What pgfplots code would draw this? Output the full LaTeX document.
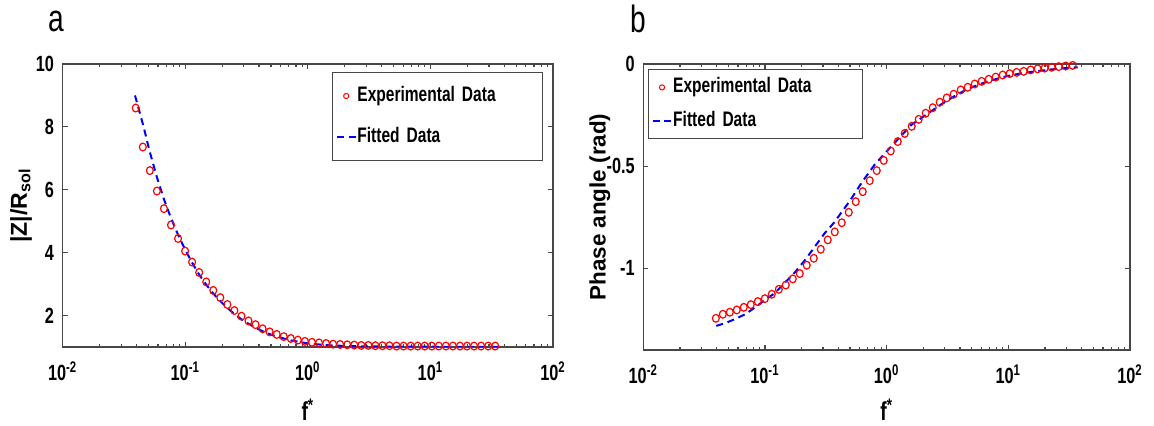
\documentclass[border=0pt]{standalone}
\usepackage{pgfplots}
\pgfplotsset{compat=1.18}
\usepackage{fontspec}
\setmainfont{Liberation Sans}[FakeStretch=0.74, WordSpace=0.8]
\newfontfamily\ylabfont{Liberation Sans}

\pgfplotstableread{
x y
0.03945 8.60
0.04503 7.36
0.05140 6.61
0.05868 5.96
0.06699 5.40
0.07646 4.88
0.08730 4.45
0.09966 4.05
0.11376 3.70
0.12987 3.37
0.14825 3.07
0.16923 2.80
0.19320 2.57
0.22053 2.35
0.25177 2.16
0.28737 1.98
0.32810 1.83
0.37454 1.71
0.42756 1.58
0.48809 1.48
0.55719 1.40
0.63605 1.33
0.72611 1.27
0.82889 1.22
0.94624 1.18
1.0802 1.15
1.2331 1.13
1.4076 1.11
1.6069 1.09
1.8343 1.08
2.0941 1.07
2.3905 1.06
2.7290 1.05
3.1153 1.05
3.5563 1.04
4.0598 1.04
4.6345 1.04
5.2905 1.03
6.0395 1.03
6.8945 1.03
7.8705 1.03
8.9847 1.03
10.257 1.03
11.709 1.03
13.366 1.03
15.258 1.03
17.418 1.03
19.884 1.03
22.699 1.03
25.912 1.03
29.580 1.03
33.767 1.03
}\magexp

\pgfplotstableread{
x y
0.0389 9.00
0.04503 8.10
0.05140 7.20
0.05868 6.40
0.06699 5.70
0.07646 5.10
0.08730 4.57
0.09966 4.10
0.11376 3.68
0.12987 3.30
0.14825 2.98
0.16923 2.70
0.19320 2.46
0.22053 2.24
0.25177 2.05
0.28737 1.88
0.32810 1.74
0.37454 1.61
0.42756 1.50
0.48809 1.41
0.55719 1.33
0.63605 1.27
0.72611 1.21
0.82889 1.17
0.94624 1.13
1.0802 1.10
1.2331 1.08
1.4076 1.06
1.6069 1.05
1.8343 1.04
2.0941 1.03
2.7290 1.02
4.0598 1.015
7.8705 1.01
17.418 1.005
37.70 1.00
}\magfit

\pgfplotstableread{
x y
0.03945 -1.245
0.04503 -1.225
0.05140 -1.215
0.05868 -1.204
0.06699 -1.191
0.07646 -1.178
0.08730 -1.163
0.09966 -1.149
0.11376 -1.127
0.12987 -1.103
0.14825 -1.082
0.16923 -1.052
0.19320 -1.026
0.22053 -0.985
0.25177 -0.951
0.28737 -0.907
0.32810 -0.861
0.37454 -0.822
0.42756 -0.777
0.48809 -0.726
0.55719 -0.674
0.63605 -0.625
0.72611 -0.571
0.82889 -0.522
0.94624 -0.472
1.0802 -0.426
1.2331 -0.380
1.4076 -0.340
1.6069 -0.305
1.8343 -0.271
2.0941 -0.241
2.3905 -0.214
2.7290 -0.187
3.1153 -0.166
3.5563 -0.148
4.0598 -0.127
4.6345 -0.114
5.2905 -0.098
6.0395 -0.085
6.8945 -0.075
7.8705 -0.064
8.9847 -0.054
10.257 -0.047
11.709 -0.041
13.366 -0.036
15.258 -0.029
17.418 -0.024
19.884 -0.020
22.699 -0.016
25.912 -0.013
29.580 -0.010
33.767 -0.007
}\phexp

\pgfplotstableread{
x y
0.0398 -1.282
0.0468 -1.269
0.0562 -1.250
0.0692 -1.224
0.0832 -1.191
0.1000 -1.155
0.1202 -1.122
0.1445 -1.073
0.1778 -1.017
0.2138 -0.959
0.2570 -0.894
0.3090 -0.829
0.3715 -0.775
0.4266 -0.725
0.5012 -0.668
0.6310 -0.576
0.7943 -0.494
1.0233 -0.421
1.2589 -0.364
1.5849 -0.299
2.0893 -0.250
2.7542 -0.201
3.5481 -0.160
4.4668 -0.127
5.6234 -0.102
7.0795 -0.082
8.9125 -0.065
11.220 -0.052
14.125 -0.042
17.783 -0.034
22.387 -0.027
28.184 -0.021
37.154 -0.016
}\phfit

\begin{document}
\begin{tikzpicture}
\path[use as bounding box] (0pt,0pt) rectangle (577pt,213pt);

\node[anchor=base west, inner sep=0pt, font=\fontsize{19}{22}\selectfont] at (24.15pt,197.15pt) {a};
\node[anchor=base west, inner sep=0pt, font=\fontsize{19}{22}\selectfont] at (315pt,196.5pt) {b};

\begin{axis}[
  scale only axis,
  xmode=log, xmin=0.01, xmax=100,
  xtick={0.01,0.1,1,10,100},
  xticklabels={10\textsuperscript{-2},10\textsuperscript{-1},10\textsuperscript{0},10\textsuperscript{1},10\textsuperscript{2}},
  axis line style={black!72, line width=0.8pt},
  every tick/.style={black!72, line width=0.6pt},
  major tick length=2.5pt, minor tick length=1.5pt,
  tick align=inside,
  tick label style={font=\bfseries\fontsize{11}{13}\selectfont},
  yticklabel style={xshift=-0.8pt},
  xticklabel style={yshift=-3.8pt},
  legend cell align=left,
  at={(31.35pt,39.5pt)}, anchor=south west,
  width=245.15pt, height=141.5pt,
  ymin=1, ymax=10,
  ytick={2,4,6,8,10}, yticklabels={2,4,6,8,10},
  xlabel={f\textsuperscript{*}},
  xlabel style={at={(axis description cs:0.5,-0.258)}, anchor=base, font=\bfseries\fontsize{13}{15}\selectfont},
  ylabel={|Z|/R\textsubscript{sol}},
  ylabel style={at={(axis description cs:-0.085,0.5)}, rotate=0, anchor=center, font=\ylabfont\bfseries\fontsize{11.5}{13}\selectfont},
  legend style={at={(0.9796,0.9717)}, anchor=north east, draw=black!72, line width=0.6pt,
    inner xsep=1.5pt, inner ysep=6.7pt, row sep=10.55pt, column sep=0.4pt,
    nodes={inner sep=0pt, text height=7.7pt, text depth=2.3pt, text width=91pt, align=left,
      font=\bfseries\fontsize{10.5}{12}\selectfont}},
]
\addplot[only marks, mark=o, color=red, mark size=1.95pt,
    mark options={line width=0.6pt, xscale=0.88},
    legend image code/.code={\draw[red, mark=o, mark size=1.3pt, mark options={line width=0.5pt}] plot coordinates {(4.7pt,0pt)};}]
    table[x=x,y=y] {\magexp};
\addlegendentry{Experimental Data}
\addplot[no marks, color=blue, line width=1pt, dash pattern=on 3.5pt off 2.4pt,
    legend image code/.code={\draw[blue, line width=1pt, dash pattern=on 3.5pt off 2.4pt] (0pt,0pt) -- (9.4pt,0pt);}]
    table[x=x,y=y] {\magfit};
\addlegendentry{Fitted Data}
\end{axis}

\begin{axis}[
  scale only axis,
  xmode=log, xmin=0.01, xmax=100,
  xtick={0.01,0.1,1,10,100},
  xticklabels={10\textsuperscript{-2},10\textsuperscript{-1},10\textsuperscript{0},10\textsuperscript{1},10\textsuperscript{2}},
  axis line style={black!72, line width=0.8pt},
  every tick/.style={black!72, line width=0.6pt},
  major tick length=2.5pt, minor tick length=1.5pt,
  tick align=inside,
  tick label style={font=\bfseries\fontsize{11}{13}\selectfont},
  yticklabel style={xshift=-0.8pt},
  xticklabel style={yshift=-3.8pt},
  legend cell align=left,
  at={(321.65pt,38pt)}, anchor=south west,
  width=243.35pt, height=143pt,
  ymin=-1.4, ymax=0,
  ytick={-1,-0.5,0}, yticklabels={-1,-0.5,0},
  xlabel={f\textsuperscript{*}},
  xlabel style={at={(axis description cs:0.5,-0.245)}, anchor=base, font=\bfseries\fontsize{13}{15}\selectfont},
  ylabel={Phase angle (rad)},
  ylabel style={at={(axis description cs:-0.089,0.5)}, rotate=0, anchor=center, font=\ylabfont\bfseries\fontsize{11.2}{13}\selectfont},
  legend style={at={(0.0097,0.9825)}, anchor=north west, draw=black!72, line width=0.6pt,
    inner xsep=1.5pt, inner ysep=3.9pt, row sep=6.7pt, column sep=0.4pt,
    nodes={inner sep=0pt, text height=7.7pt, text depth=2.3pt, text width=93pt, align=left,
      font=\bfseries\fontsize{10.5}{12}\selectfont}},
]
\addplot[only marks, mark=o, color=red, mark size=1.95pt,
    mark options={line width=0.6pt, xscale=0.88},
    legend image code/.code={\draw[red, mark=o, mark size=1.3pt, mark options={line width=0.5pt}] plot coordinates {(4.7pt,0pt)};}]
    table[x=x,y=y] {\phexp};
\addlegendentry{Experimental Data}
\addplot[no marks, color=blue, line width=1pt, dash pattern=on 3.5pt off 2.4pt,
    legend image code/.code={\draw[blue, line width=1pt, dash pattern=on 3.5pt off 2.4pt] (0pt,0pt) -- (9.4pt,0pt);}]
    table[x=x,y=y] {\phfit};
\addlegendentry{Fitted Data}
\end{axis}
\end{tikzpicture}
\end{document}
